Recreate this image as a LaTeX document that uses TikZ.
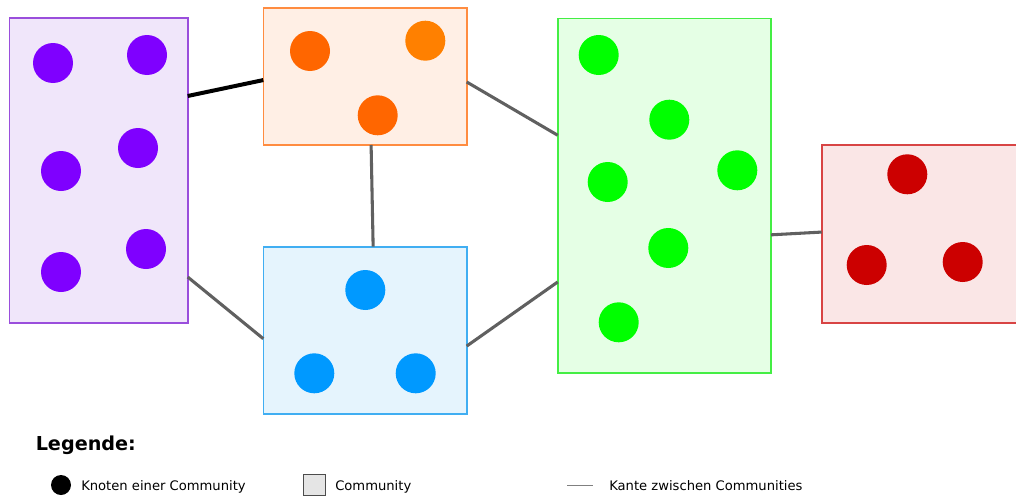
\documentclass[tikz,border=0pt]{standalone}
\usepackage{fontspec}
\setmainfont{DejaVu Sans}
\usetikzlibrary{calc}

% community palettes: node colour, box fill, box border
\definecolor{violetN}{HTML}{7F00FF}
\definecolor{violetF}{HTML}{F0E6FA}
\definecolor{violetB}{HTML}{9A4EDC}
\definecolor{orangeN}{HTML}{FF6600}
\definecolor{orangeM}{HTML}{FF8000}
\definecolor{orangeF}{HTML}{FFEFE5}
\definecolor{orangeB}{HTML}{FF8C40}
\definecolor{blueN}{HTML}{0099FF}
\definecolor{blueF}{HTML}{E5F4FD}
\definecolor{blueB}{HTML}{40AEF2}
\definecolor{greenN}{HTML}{00FF00}
\definecolor{greenF}{HTML}{E5FFE5}
\definecolor{greenB}{HTML}{44EE44}
\definecolor{redN}{HTML}{CC0000}
\definecolor{redF}{HTML}{FAE6E6}
\definecolor{redB}{HTML}{D84444}
\definecolor{linkgray}{HTML}{606060}
\definecolor{legendgray}{HTML}{808080}

\tikzset{
  commbox/.style={rectangle, draw=#1, line width=1.2pt, inner sep=0pt, outer sep=0pt},
  member/.style={circle, fill=#1, minimum size=30pt, inner sep=0pt},
  link/.style={draw=linkgray, line width=2.3pt},
  strong link/.style={draw=black, line width=3pt},
  legtext/.style={anchor=base west, inner sep=0pt, font=\fontsize{9.85pt}{11pt}\selectfont},
}

% community box spanning (x1,y1)-(x2,y2) in pixel units
\newcommand{\commrect}[7]{%
  \node[commbox=#6, fill=#7, minimum width={(#4-#2)*0.75pt}, minimum height={(#5-#3)*0.75pt}]
    (#1) at ({(#2+#4)/2},{(#3+#5)/2}) {};}

\begin{document}
\begin{tikzpicture}[x=0.75pt, y=-0.75pt]
\clip (0,0) rectangle (1016,496);
\fill[white] (0,0) rectangle (1016,496);

% communities
\commrect{cV}{9.5}{18}{187.7}{322.7}{violetB}{violetF}
\commrect{cO}{263.3}{8}{466.7}{145}{orangeB}{orangeF}
\commrect{cB}{263.3}{246.7}{466.7}{414}{blueB}{blueF}
\commrect{cG}{557.7}{18.3}{771}{372.7}{greenB}{greenF}
\commrect{cR}{821.7}{145}{1040}{322.7}{redB}{redF}

% members
\node[member=violetN] (p1) at (53,63) {};
\node[member=violetN] (p2) at (147,55) {};
\node[member=violetN] (p3) at (61,171) {};
\node[member=violetN] (p4) at (138,148) {};
\node[member=violetN] (p5) at (61,272) {};
\node[member=violetN] (p6) at (146,249) {};

\node[member=orangeN] (o1) at (310,51) {};
\node[member=orangeM] (o2) at (425.3,40.7) {};
\node[member=orangeN] (o3) at (377.7,115.3) {};

\node[member=blueN] (b1) at (365.3,290) {};
\node[member=blueN] (b2) at (314.3,373.3) {};
\node[member=blueN] (b3) at (415.7,373.3) {};

\node[member=greenN] (g1) at (598.7,55) {};
\node[member=greenN] (g2) at (669.3,119.7) {};
\node[member=greenN] (g3) at (607.7,182) {};
\node[member=greenN] (g4) at (737.3,170.3) {};
\node[member=greenN] (g5) at (668.3,248) {};
\node[member=greenN] (g6) at (618.7,322.3) {};

\node[member=redN] (r1) at (907.3,174.3) {};
\node[member=redN] (r2) at (866.7,265) {};
\node[member=redN] (r3) at (962.7,262) {};

% links between communities
\draw[strong link] ($(cV.north east)!0.256!(cV.south east)$) -- ($(cO.north west)!0.526!(cO.south west)$);
\draw[link] ($(cO.south west)!0.53!(cO.south east)$) -- ($(cB.north west)!0.54!(cB.north east)$);
\draw[link] ($(cO.north east)!0.54!(cO.south east)$) -- ($(cG.north west)!0.33!(cG.south west)$);
\draw[link] ($(cV.north east)!0.85!(cV.south east)$) -- ($(cB.north west)!0.55!(cB.south west)$);
\draw[link] ($(cB.north east)!0.594!(cB.south east)$) -- ($(cG.north west)!0.744!(cG.south west)$);
\draw[link] ($(cG.north east)!0.611!(cG.south east)$) -- ($(cR.north west)!0.49!(cR.south west)$);

% legend
\node[anchor=base west, inner sep=0pt, font=\fontsize{14.4pt}{16pt}\selectfont\bfseries] (legtitle) at (35.5,450.5) {Legende:};
\node[circle, fill=black, minimum size=15pt, inner sep=0pt] (legdot) at (61,485) {};
\node[legtext] (legdottext) at (81,490) {Knoten einer Community};
\node[rectangle, draw=black!70, fill=black!10, line width=0.6pt, minimum width=16pt, minimum height=15.5pt, inner sep=0pt] (legbox) at (314.5,485) {};
\node[legtext] (legboxtext) at (335,490) {Community};
\coordinate (legA) at (567,485.3);
\coordinate (legB) at (593,485.3);
\draw[draw=legendgray, line width=0.8pt] (legA) -- (legB);
\node[legtext] (leglinetext) at (609,490) {Kante zwischen Communities};
\end{tikzpicture}
\end{document}
